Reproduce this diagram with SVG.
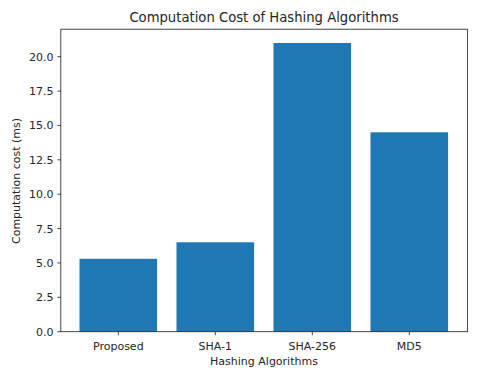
<svg xmlns="http://www.w3.org/2000/svg" width="491" height="368" viewBox="0 0 491 368">
<style>
text{font-family:"DejaVu Sans",sans-serif;fill:#262626}
.t{font-size:11px}
.yt{text-anchor:end}
.xt{text-anchor:middle}
.bar{fill:#1f77b4}
.tick{stroke:#262626;stroke-width:0.85}
</style>
<rect width="491" height="368" fill="#fff"/>
<text x="264" y="22" font-size="13.2" text-anchor="middle">Computation Cost of Hashing Algorithms</text>
<g id="bars">
<g id="bar-proposed"><rect class="bar" x="79.5" y="258.8" width="77.6" height="72.9"/></g>
<g id="bar-sha1"><rect class="bar" x="176.5" y="242.3" width="77.6" height="89.4"/></g>
<g id="bar-sha256"><rect class="bar" x="273.5" y="43" width="77.6" height="288.7"/></g>
<g id="bar-md5"><rect class="bar" x="370.5" y="132.3" width="77.6" height="199.4"/></g>
</g>
<g id="axes" fill="none" stroke="#262626" stroke-width="0.85">
<rect x="60.8" y="29.2" width="406.6" height="302.5"/>
</g>
<g id="yticks">
<g class="tick">
<line x1="57.3" y1="331.7" x2="60.8" y2="331.7"/>
<line x1="57.3" y1="297.3" x2="60.8" y2="297.3"/>
<line x1="57.3" y1="262.95" x2="60.8" y2="262.95"/>
<line x1="57.3" y1="228.6" x2="60.8" y2="228.6"/>
<line x1="57.3" y1="194.2" x2="60.8" y2="194.2"/>
<line x1="57.3" y1="159.8" x2="60.8" y2="159.8"/>
<line x1="57.3" y1="125.45" x2="60.8" y2="125.45"/>
<line x1="57.3" y1="91.1" x2="60.8" y2="91.1"/>
<line x1="57.3" y1="56.7" x2="60.8" y2="56.7"/>
</g>
<text class="t yt" x="53.5" y="335.7">0.0</text>
<text class="t yt" x="53.5" y="301.3">2.5</text>
<text class="t yt" x="53.5" y="266.9">5.0</text>
<text class="t yt" x="53.5" y="232.6">7.5</text>
<text class="t yt" x="53.5" y="198.2">10.0</text>
<text class="t yt" x="53.5" y="163.8">12.5</text>
<text class="t yt" x="53.5" y="129.4">15.0</text>
<text class="t yt" x="53.5" y="95.1">17.5</text>
<text class="t yt" x="53.5" y="60.7">20.0</text>
</g>
<g id="xticks">
<g class="tick">
<line x1="118.3" y1="331.7" x2="118.3" y2="335.2"/>
<line x1="215.3" y1="331.7" x2="215.3" y2="335.2"/>
<line x1="312.3" y1="331.7" x2="312.3" y2="335.2"/>
<line x1="409.3" y1="331.7" x2="409.3" y2="335.2"/>
</g>
<text class="t xt" x="118.3" y="349.5">Proposed</text>
<text class="t xt" x="215.3" y="349.5">SHA-1</text>
<text class="t xt" x="312.3" y="349.5">SHA-256</text>
<text class="t xt" x="409.3" y="349.5">MD5</text>
</g>
<text class="t xt" x="264" y="365">Hashing Algorithms</text>
<text class="t xt" transform="translate(20,181) rotate(-90)">Computation cost (ms)</text>
</svg>
